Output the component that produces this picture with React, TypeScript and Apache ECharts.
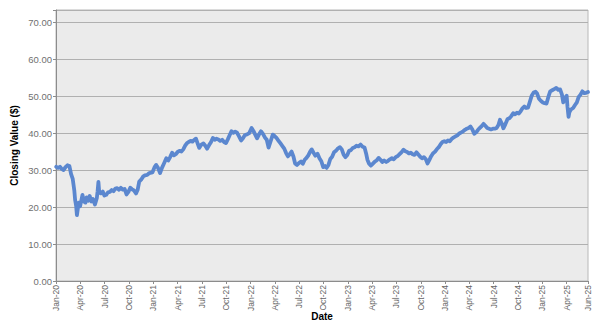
import React, { useEffect, useRef } from "react";
import * as echarts from "echarts";

const dates: string[] = [
  "2020-01-02","2020-01-09","2020-01-16","2020-01-23","2020-01-30","2020-02-06","2020-02-13","2020-02-20","2020-02-26","2020-03-03",
  "2020-03-09","2020-03-12","2020-03-16","2020-03-19","2020-03-23","2020-03-26","2020-03-31","2020-04-06","2020-04-09","2020-04-14",
  "2020-04-20","2020-04-24","2020-04-30","2020-05-06","2020-05-12","2020-05-18","2020-05-26","2020-06-02","2020-06-05","2020-06-08",
  "2020-06-11","2020-06-17","2020-06-24","2020-06-30","2020-07-07","2020-07-14","2020-07-21","2020-07-28","2020-08-04","2020-08-11",
  "2020-08-18","2020-08-25","2020-09-01","2020-09-08","2020-09-15","2020-09-22","2020-09-29","2020-10-06","2020-10-13","2020-10-20",
  "2020-10-28","2020-11-03","2020-11-09","2020-11-16","2020-11-24","2020-12-01","2020-12-09","2020-12-17","2020-12-29","2021-01-06",
  "2021-01-12","2021-01-19","2021-01-27","2021-02-03","2021-02-10","2021-02-18","2021-02-25","2021-03-04","2021-03-11","2021-03-18",
  "2021-03-25","2021-04-01","2021-04-08","2021-04-15","2021-04-22","2021-04-29","2021-05-06","2021-05-13","2021-05-20","2021-05-27",
  "2021-06-03","2021-06-09","2021-06-16","2021-06-21","2021-06-28","2021-07-07","2021-07-14","2021-07-21","2021-07-28","2021-08-05",
  "2021-08-12","2021-08-19","2021-08-26","2021-09-02","2021-09-09","2021-09-16","2021-09-23","2021-09-30","2021-10-07","2021-10-14",
  "2021-10-21","2021-10-28","2021-11-04","2021-11-11","2021-11-18","2021-11-26","2021-12-03","2021-12-10","2021-12-17","2021-12-27",
  "2022-01-05","2022-01-12","2022-01-19","2022-01-26","2022-02-02","2022-02-09","2022-02-16","2022-02-23","2022-03-01","2022-03-08",
  "2022-03-15","2022-03-24","2022-03-31","2022-04-07","2022-04-14","2022-04-22","2022-04-29","2022-05-06","2022-05-13","2022-05-20",
  "2022-05-27","2022-06-03","2022-06-10","2022-06-16","2022-06-23","2022-06-30","2022-07-08","2022-07-15","2022-07-22","2022-07-29",
  "2022-08-05","2022-08-12","2022-08-18","2022-08-25","2022-09-01","2022-09-09","2022-09-16","2022-09-23","2022-09-30","2022-10-07",
  "2022-10-13","2022-10-20","2022-10-27","2022-11-03","2022-11-10","2022-11-17","2022-11-25","2022-12-02","2022-12-09","2022-12-16",
  "2022-12-23","2022-12-30","2023-01-06","2023-01-13","2023-01-20","2023-01-27","2023-02-03","2023-02-10","2023-02-17","2023-02-24",
  "2023-03-03","2023-03-09","2023-03-14","2023-03-20","2023-03-27","2023-04-03","2023-04-11","2023-04-18","2023-04-25","2023-05-02",
  "2023-05-09","2023-05-16","2023-05-24","2023-05-31","2023-06-07","2023-06-14","2023-06-21","2023-06-28","2023-07-06","2023-07-13",
  "2023-07-20","2023-07-28","2023-08-04","2023-08-11","2023-08-18","2023-08-25","2023-09-01","2023-09-08","2023-09-15","2023-09-22",
  "2023-09-29","2023-10-06","2023-10-13","2023-10-20","2023-10-27","2023-11-02","2023-11-09","2023-11-16","2023-11-24","2023-12-01",
  "2023-12-08","2023-12-15","2023-12-22","2023-12-29","2024-01-05","2024-01-12","2024-01-19","2024-01-26","2024-02-02","2024-02-09",
  "2024-02-16","2024-02-23","2024-03-01","2024-03-08","2024-03-15","2024-03-22","2024-03-29","2024-04-05","2024-04-12","2024-04-19",
  "2024-04-26","2024-05-03","2024-05-10","2024-05-17","2024-05-24","2024-05-31","2024-06-07","2024-06-14","2024-06-21","2024-06-28",
  "2024-07-05","2024-07-12","2024-07-19","2024-07-25","2024-08-01","2024-08-07","2024-08-14","2024-08-23","2024-08-30","2024-09-06",
  "2024-09-13","2024-09-20","2024-09-27","2024-10-04","2024-10-11","2024-10-18","2024-10-25","2024-11-01","2024-11-08","2024-11-15",
  "2024-11-22","2024-11-29","2024-12-06","2024-12-12","2024-12-19","2024-12-27","2025-01-03","2025-01-10","2025-01-17","2025-01-24",
  "2025-01-31","2025-02-07","2025-02-14","2025-02-21","2025-02-28","2025-03-07","2025-03-14","2025-03-19","2025-03-26","2025-04-01",
  "2025-04-04","2025-04-08","2025-04-11","2025-04-17","2025-04-25","2025-05-02","2025-05-09","2025-05-16","2025-05-23","2025-05-30",
  "2025-06-06","2025-06-13","2025-06-20"
];

const closes: number[] = [
  30.9,30.6,30.9,30.3,30.0,30.8,31.3,31.1,28.9,27.6,
  24.5,22.0,20.3,17.8,19.8,21.2,20.2,22.2,23.3,21.5,
  21.2,22.6,21.7,23.0,21.5,22.2,20.7,22.4,24.3,26.8,
  24.0,23.7,24.2,23.1,23.3,24.0,24.1,24.6,24.3,25.0,
  25.1,24.7,25.2,24.7,24.9,23.4,24.1,25.2,24.8,24.5,
  23.7,24.6,26.9,27.4,28.3,28.6,28.7,29.2,29.4,30.8,
  31.4,30.6,29.2,30.6,31.8,33.2,32.6,33.6,34.7,34.0,
  34.3,34.9,35.2,35.0,35.6,36.6,37.3,37.6,37.9,37.7,
  38.2,38.5,37.0,36.0,36.8,37.2,36.6,35.8,36.7,37.6,
  38.7,38.2,38.5,38.3,37.9,38.2,37.6,37.3,38.3,39.4,
  40.5,40.1,40.4,40.1,39.2,38.0,38.6,39.4,39.6,40.0,
  41.4,40.6,39.6,38.6,39.6,40.5,39.8,38.8,38.2,36.1,
  37.6,39.6,39.2,38.7,38.0,37.2,36.5,35.8,34.6,33.7,
  34.3,35.0,33.6,31.8,31.4,31.9,32.3,31.7,32.8,33.3,
  34.0,35.0,35.6,34.7,33.9,34.4,33.2,32.4,30.8,31.1,
  30.6,31.4,33.0,33.6,34.8,35.2,35.9,36.2,35.6,34.2,
  33.5,34.1,35.2,35.4,36.0,36.2,36.6,36.4,36.9,36.3,
  36.1,34.5,32.8,31.8,31.2,31.7,32.3,32.6,33.3,32.8,
  32.2,32.6,32.2,32.5,32.9,33.2,32.9,33.5,33.8,34.3,
  34.8,35.5,35.1,34.9,34.5,34.7,34.3,34.1,34.8,34.2,
  33.6,33.2,33.5,33.0,31.8,32.6,33.7,34.5,35.0,35.7,
  36.2,37.0,37.6,37.8,37.6,38.0,37.8,38.4,38.8,39.1,
  39.4,39.9,40.2,40.5,40.9,41.2,41.4,41.8,41.0,39.8,
  40.2,40.9,41.4,41.9,42.5,42.0,41.4,41.2,41.0,41.2,
  41.2,41.4,42.2,43.6,42.6,41.3,42.3,43.8,44.0,44.6,
  45.4,45.1,45.5,45.3,45.9,46.7,47.2,46.8,46.9,48.5,
  50.2,51.0,51.2,50.7,49.3,48.7,48.3,48.1,48.0,49.8,
  51.3,51.6,51.9,52.2,51.7,51.8,50.4,48.3,49.6,50.1,
  47.2,44.4,45.6,46.4,46.8,47.6,48.3,49.8,50.4,51.3,
  50.8,50.9,51.1
];

const monthNames: string[] = ["Jan","Feb","Mar","Apr","May","Jun","Jul","Aug","Sep","Oct","Nov","Dec"];
const yTickValues: number[] = [0, 10, 20, 30, 40, 50, 60, 70];

function toMonthIndex(d: string): number {
  const [y, m, day] = d.split("-").map(Number);
  const dim = new Date(y, m, 0).getDate();
  return (y - 2020) * 12 + (m - 1) + (day - 1) / dim;
}

function monthLabel(idx: number): string {
  const i = Math.floor(idx + 1e-6);
  const y = 2020 + Math.floor(i / 12);
  return monthNames[i % 12] + "-" + String(y % 100).padStart(2, "0");
}

export default function App() {
  const ref = useRef<HTMLDivElement>(null);
  useEffect(() => {
    if (!ref.current) return;
    const chart = echarts.init(ref.current, undefined, { renderer: "svg" });
    const xMax = toMonthIndex(dates[dates.length - 1]);
    const font = "'Liberation Sans', Arial, sans-serif";
    chart.setOption({
      animation: false,
      backgroundColor: "#ffffff",
      grid: {
        left: 56,
        right: 19,
        top: 10,
        bottom: 52,
        containLabel: false,
        outerBoundsMode: "none",
        show: true,
        backgroundColor: "#ebebeb",
        borderColor: "#b8b8b8",
        borderWidth: 1,
      },
      xAxis: {
        type: "value",
        min: 0,
        max: xMax,
        interval: 3,
        name: "Date",
        nameLocation: "middle",
        nameGap: 30,
        nameMoveOverlap: false,
        nameTextStyle: { fontFamily: font, fontSize: 10, fontWeight: "bold", color: "#000" },
        axisLine: { show: true, lineStyle: { color: "#8c8c8c", width: 1 } },
        axisTick: { show: true, length: 3, lineStyle: { color: "#8c8c8c" } },
        splitLine: { show: false },
        axisLabel: {
          rotate: 90,
          margin: 4,
          fontFamily: font,
          fontSize: 8.5,
          color: "#666666",
          showMinLabel: true,
          showMaxLabel: true,
          formatter: (v: number) => {
            if (Math.abs(v - xMax) < 1e-6) return monthLabel(xMax);
            return monthLabel(v);
          },
        },
      },
      yAxis: {
        type: "value",
        min: 0,
        max: 73.3,
        interval: 10,
        name: "Closing Value ($)",
        nameLocation: "middle",
        nameGap: 37,
        nameMoveOverlap: false,
        nameTextStyle: { fontFamily: font, fontSize: 10, fontWeight: "bold", color: "#000" },
        axisLine: { show: true, lineStyle: { color: "#8c8c8c", width: 1 } },
        axisTick: { show: true, length: 3, lineStyle: { color: "#8c8c8c" } },
        splitLine: { show: true, lineStyle: { color: "#b0b0b0", width: 1 } },
        axisLabel: {
          margin: 4,
          fontFamily: font,
          fontSize: 9.5,
          color: "#707070",
          formatter: (v: number) => (yTickValues.indexOf(Math.round(v * 1000) / 1000) >= 0 ? v.toFixed(2) : ""),
        },
      },
      series: [
        {
          type: "line",
          showSymbol: false,
          symbol: "none",
          smooth: false,
          lineStyle: { color: "#5b87cf", width: 3.8, join: "round", cap: "round" },
          data: dates.map((d, i) => [toMonthIndex(d), closes[i]]),
        },
      ],
    });
    return () => chart.dispose();
  }, []);
  return <div ref={ref} style={{ position: "fixed", left: 0, top: 0, width: 607, height: 333 }} />;
}
